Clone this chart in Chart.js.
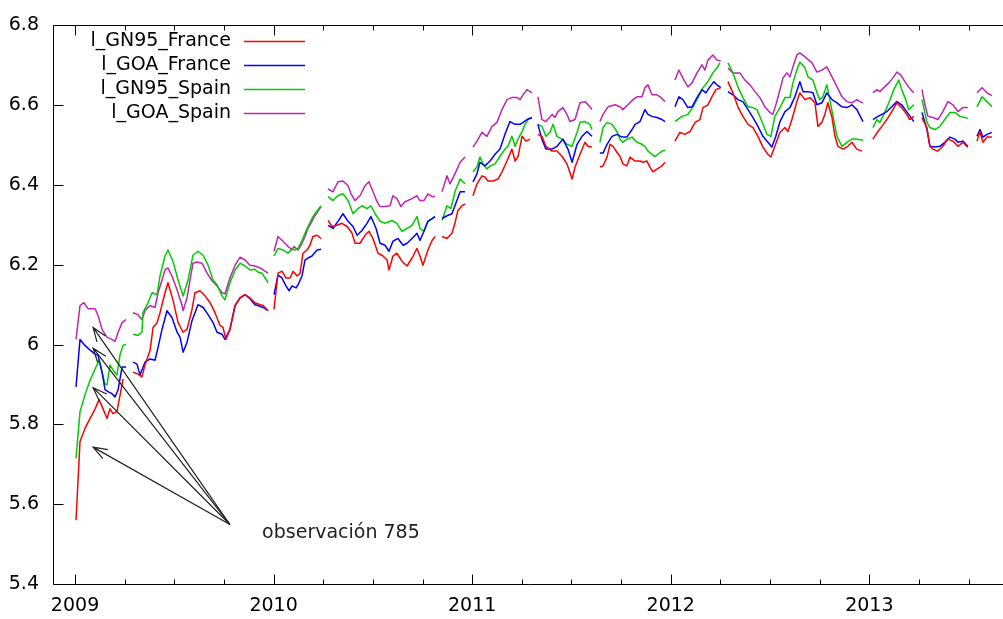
<!DOCTYPE html>
<html>
<head>
<meta charset="utf-8">
<script src="https://cdn.jsdelivr.net/npm/chart.js@4.4.1/dist/chart.umd.min.js"></script>
<style>
html,body{margin:0;padding:0;background:#fff;}
#wrap{width:1003px;height:619px;}
</style>
</head>
<body>
<div id="wrap"><canvas id="c" width="1003" height="619"></canvas></div>
<script>
// ---------------- data ----------------
const seriesNames = ['l_GN95_France', 'l_GOA_France', 'l_GN95_Spain', 'l_GOA_Spain'];
const seriesColors = ['#ff0000', '#0000ff', '#00cc00', '#bf25b2'];
const yearTicks = [2009, 2010, 2011, 2012, 2013];
const quarterTicks = [2009.25, 2009.5, 2009.75, 2010.25, 2010.5, 2010.75, 2011.25, 2011.5, 2011.75,
                      2012.25, 2012.5, 2012.75, 2013.25, 2013.5];
const yTicks = [5.4, 5.6, 5.8, 6.0, 6.2, 6.4, 6.6, 6.8];

// [decimal year, value]; null = missing observations (gap)
const gn95France = [
 [2009.005,5.560],[2009.025,5.757],[2009.050,5.790],[2009.076,5.815],[2009.101,5.839],[2009.121,5.862],[2009.141,5.839],[2009.161,5.815],[2009.176,5.839],[2009.191,5.827],[2009.211,5.832],[2009.227,5.874],[2009.242,5.914],
 null,
 [2009.292,5.931],[2009.317,5.926],[2009.337,5.919],[2009.352,5.949],[2009.378,5.986],[2009.393,6.043],[2009.413,6.055],[2009.428,6.080],[2009.453,6.130],[2009.468,6.155],[2009.493,6.112],[2009.519,6.055],[2009.544,6.031],[2009.564,6.038],[2009.589,6.088],[2009.604,6.130],[2009.629,6.135],[2009.655,6.122],[2009.680,6.105],[2009.705,6.080],[2009.730,6.048],[2009.745,6.043],[2009.760,6.013],[2009.780,6.038],[2009.806,6.098],[2009.831,6.117],[2009.856,6.125],[2009.881,6.117],[2009.906,6.105],[2009.932,6.100],[2009.947,6.098],[2009.972,6.085],
 null,
 [2010.002,6.088],[2010.022,6.179],[2010.042,6.184],[2010.062,6.167],[2010.083,6.167],[2010.098,6.184],[2010.118,6.172],[2010.133,6.179],[2010.148,6.229],[2010.168,6.237],[2010.183,6.249],[2010.198,6.271],[2010.219,6.274],[2010.239,6.266],
 null,
 [2010.274,6.311],[2010.294,6.296],[2010.319,6.299],[2010.344,6.304],[2010.370,6.296],[2010.395,6.279],[2010.410,6.254],[2010.435,6.254],[2010.460,6.274],[2010.480,6.284],[2010.500,6.266],[2010.526,6.229],[2010.551,6.222],[2010.571,6.212],[2010.581,6.187],[2010.601,6.222],[2010.621,6.229],[2010.646,6.209],[2010.672,6.197],[2010.697,6.217],[2010.722,6.241],[2010.737,6.222],[2010.752,6.199],[2010.777,6.237],[2010.798,6.261],[2010.813,6.271],
 null,
 [2010.848,6.271],[2010.873,6.266],[2010.898,6.279],[2010.913,6.304],[2010.928,6.336],[2010.949,6.348],[2010.964,6.353],
 null,
 [2011.004,6.373],[2011.024,6.403],[2011.049,6.423],[2011.064,6.420],[2011.079,6.410],[2011.105,6.410],[2011.130,6.415],[2011.150,6.433],[2011.175,6.460],[2011.200,6.490],[2011.216,6.460],[2011.231,6.472],[2011.251,6.522],[2011.271,6.510],[2011.291,6.515],
 null,
 [2011.331,6.527],[2011.351,6.522],[2011.371,6.497],[2011.402,6.485],[2011.427,6.485],[2011.452,6.472],[2011.477,6.453],[2011.503,6.415],[2011.518,6.445],[2011.543,6.477],[2011.568,6.507],[2011.583,6.497],[2011.603,6.495],
 null,
 [2011.643,6.445],[2011.659,6.448],[2011.679,6.470],[2011.694,6.502],[2011.709,6.497],[2011.729,6.482],[2011.744,6.472],[2011.759,6.453],[2011.779,6.448],[2011.795,6.470],[2011.820,6.460],[2011.845,6.460],[2011.860,6.457],[2011.880,6.460],[2011.895,6.445],[2011.910,6.433],[2011.930,6.440],[2011.956,6.448],[2011.971,6.457],
 null,
 [2012.021,6.510],[2012.046,6.532],[2012.071,6.527],[2012.097,6.534],[2012.122,6.557],[2012.147,6.564],[2012.162,6.594],[2012.187,6.601],[2012.207,6.621],[2012.227,6.639],[2012.252,6.644],
 null,
 [2012.288,6.659],[2012.313,6.631],[2012.338,6.596],[2012.363,6.572],[2012.389,6.552],[2012.414,6.544],[2012.439,6.522],[2012.464,6.495],[2012.489,6.477],[2012.504,6.470],[2012.524,6.497],[2012.550,6.532],[2012.575,6.544],[2012.590,6.534],[2012.610,6.564],[2012.635,6.609],[2012.650,6.631],[2012.676,6.614],[2012.701,6.619],[2012.726,6.606],[2012.741,6.547],[2012.761,6.557],[2012.776,6.577],[2012.791,6.606],[2012.812,6.569],[2012.827,6.522],[2012.842,6.497],[2012.867,6.490],[2012.892,6.497],[2012.912,6.507],[2012.937,6.490],[2012.963,6.485],
 null,
 [2013.018,6.515],[2013.043,6.534],[2013.063,6.547],[2013.088,6.564],[2013.113,6.584],[2013.138,6.606],[2013.163,6.594],[2013.188,6.577],[2013.203,6.564],[2013.224,6.572],
 null,
 [2013.265,6.569],[2013.290,6.544],[2013.305,6.497],[2013.320,6.490],[2013.345,6.485],[2013.370,6.497],[2013.395,6.515],[2013.421,6.510],[2013.446,6.497],[2013.471,6.507],[2013.496,6.495],
 null,
 [2013.542,6.510],[2013.557,6.534],[2013.572,6.507],[2013.592,6.520],[2013.617,6.520]
];

const goaFrance = [
 [2009.005,5.894],[2009.025,6.013],[2009.050,5.998],[2009.076,5.986],[2009.101,5.976],[2009.116,5.973],[2009.136,5.931],[2009.151,5.887],[2009.166,5.882],[2009.186,5.877],[2009.201,5.869],[2009.217,5.887],[2009.237,5.944],[2009.257,5.944],
 null,
 [2009.292,5.956],[2009.312,5.951],[2009.327,5.924],[2009.352,5.956],[2009.378,5.964],[2009.403,5.961],[2009.418,5.993],[2009.438,6.038],[2009.463,6.085],[2009.488,6.068],[2009.514,6.031],[2009.529,6.018],[2009.544,5.981],[2009.564,6.006],[2009.589,6.060],[2009.619,6.100],[2009.645,6.093],[2009.670,6.075],[2009.695,6.055],[2009.715,6.031],[2009.740,6.026],[2009.755,6.013],[2009.780,6.038],[2009.806,6.098],[2009.831,6.117],[2009.856,6.125],[2009.881,6.115],[2009.906,6.100],[2009.921,6.098],[2009.947,6.093],[2009.972,6.085],
 null,
 [2010.002,6.125],[2010.022,6.174],[2010.042,6.167],[2010.062,6.147],[2010.078,6.135],[2010.093,6.147],[2010.113,6.142],[2010.123,6.150],[2010.143,6.172],[2010.158,6.212],[2010.173,6.217],[2010.193,6.222],[2010.219,6.237],[2010.239,6.239],
 null,
 [2010.274,6.299],[2010.299,6.291],[2010.324,6.309],[2010.349,6.328],[2010.375,6.309],[2010.400,6.296],[2010.420,6.274],[2010.445,6.286],[2010.470,6.304],[2010.490,6.321],[2010.516,6.291],[2010.536,6.254],[2010.561,6.249],[2010.581,6.234],[2010.601,6.259],[2010.626,6.266],[2010.652,6.249],[2010.672,6.254],[2010.697,6.266],[2010.722,6.279],[2010.737,6.261],[2010.757,6.284],[2010.777,6.309],[2010.798,6.316],[2010.813,6.321],
 null,
 [2010.848,6.316],[2010.873,6.323],[2010.898,6.328],[2010.923,6.361],[2010.939,6.383],[2010.964,6.383],
 null,
 [2011.004,6.408],[2011.024,6.428],[2011.039,6.457],[2011.064,6.448],[2011.090,6.460],[2011.115,6.477],[2011.140,6.490],[2011.165,6.527],[2011.190,6.559],[2011.216,6.552],[2011.241,6.552],[2011.256,6.557],[2011.276,6.564],[2011.301,6.569],
 null,
 [2011.331,6.552],[2011.351,6.515],[2011.371,6.490],[2011.402,6.490],[2011.427,6.497],[2011.457,6.515],[2011.482,6.490],[2011.503,6.457],[2011.528,6.502],[2011.553,6.522],[2011.578,6.534],[2011.603,6.522],
 null,
 [2011.643,6.480],[2011.659,6.480],[2011.679,6.502],[2011.704,6.522],[2011.729,6.527],[2011.754,6.520],[2011.779,6.520],[2011.805,6.539],[2011.820,6.552],[2011.845,6.559],[2011.870,6.589],[2011.885,6.577],[2011.905,6.572],[2011.930,6.569],[2011.956,6.564],[2011.971,6.559],
 null,
 [2012.021,6.596],[2012.041,6.621],[2012.061,6.614],[2012.086,6.594],[2012.107,6.596],[2012.132,6.619],[2012.157,6.639],[2012.177,6.631],[2012.197,6.646],[2012.217,6.659],[2012.232,6.651],[2012.252,6.644],
 null,
 [2012.288,6.634],[2012.313,6.626],[2012.338,6.614],[2012.363,6.609],[2012.389,6.589],[2012.414,6.569],[2012.439,6.547],[2012.464,6.522],[2012.489,6.507],[2012.509,6.495],[2012.529,6.522],[2012.550,6.559],[2012.575,6.584],[2012.600,6.594],[2012.625,6.621],[2012.650,6.659],[2012.666,6.634],[2012.691,6.634],[2012.716,6.631],[2012.736,6.601],[2012.761,6.606],[2012.786,6.631],[2012.812,6.614],[2012.837,6.606],[2012.862,6.596],[2012.887,6.594],[2012.912,6.601],[2012.937,6.589],[2012.968,6.559],
 null,
 [2013.018,6.564],[2013.043,6.572],[2013.063,6.577],[2013.088,6.584],[2013.113,6.596],[2013.138,6.609],[2013.163,6.601],[2013.188,6.584],[2013.224,6.559],
 null,
 [2013.265,6.582],[2013.290,6.539],[2013.305,6.497],[2013.330,6.495],[2013.355,6.497],[2013.380,6.507],[2013.406,6.520],[2013.431,6.515],[2013.446,6.507],[2013.471,6.510],[2013.496,6.497],
 null,
 [2013.542,6.522],[2013.557,6.539],[2013.572,6.520],[2013.592,6.527],[2013.617,6.532]
];

const gn95Spain = [
 [2009.005,5.715],[2009.025,5.832],[2009.050,5.874],[2009.076,5.911],[2009.101,5.939],[2009.121,5.961],[2009.136,5.931],[2009.151,5.901],[2009.161,5.899],[2009.176,5.949],[2009.191,5.936],[2009.211,5.924],[2009.227,5.976],[2009.242,5.998],[2009.257,6.001],
 null,
 [2009.292,6.026],[2009.317,6.023],[2009.337,6.031],[2009.342,6.080],[2009.363,6.100],[2009.388,6.130],[2009.413,6.125],[2009.428,6.172],[2009.453,6.222],[2009.468,6.237],[2009.493,6.209],[2009.519,6.162],[2009.544,6.122],[2009.569,6.162],[2009.594,6.224],[2009.619,6.234],[2009.645,6.224],[2009.670,6.199],[2009.695,6.162],[2009.715,6.150],[2009.740,6.122],[2009.755,6.112],[2009.780,6.155],[2009.806,6.187],[2009.831,6.204],[2009.856,6.197],[2009.881,6.187],[2009.906,6.189],[2009.921,6.182],[2009.942,6.179],[2009.972,6.155],
 null,
 [2010.002,6.222],[2010.022,6.241],[2010.047,6.237],[2010.073,6.229],[2010.093,6.241],[2010.108,6.237],[2010.123,6.241],[2010.143,6.261],[2010.158,6.279],[2010.173,6.296],[2010.193,6.316],[2010.208,6.328],[2010.239,6.348],
 null,
 [2010.274,6.371],[2010.299,6.361],[2010.324,6.373],[2010.349,6.378],[2010.375,6.361],[2010.400,6.328],[2010.425,6.341],[2010.445,6.348],[2010.470,6.341],[2010.490,6.348],[2010.511,6.328],[2010.536,6.309],[2010.561,6.304],[2010.596,6.311],[2010.621,6.304],[2010.646,6.284],[2010.672,6.291],[2010.697,6.299],[2010.722,6.321],[2010.737,6.291],[2010.757,6.284],[2010.777,6.309],[2010.798,6.316],[2010.813,6.321],
 null,
 [2010.848,6.311],[2010.873,6.348],[2010.893,6.341],[2010.913,6.383],[2010.939,6.415],[2010.964,6.403],
 null,
 [2011.004,6.433],[2011.024,6.445],[2011.039,6.470],[2011.054,6.453],[2011.074,6.440],[2011.090,6.448],[2011.115,6.453],[2011.140,6.472],[2011.165,6.490],[2011.180,6.497],[2011.200,6.522],[2011.216,6.497],[2011.231,6.515],[2011.251,6.534],[2011.266,6.552],[2011.281,6.564],[2011.301,6.569],
 null,
 [2011.331,6.552],[2011.351,6.547],[2011.371,6.522],[2011.392,6.532],[2011.407,6.552],[2011.427,6.522],[2011.452,6.515],[2011.477,6.502],[2011.503,6.497],[2011.528,6.532],[2011.543,6.557],[2011.568,6.559],[2011.593,6.552],[2011.603,6.539],
 null,
 [2011.643,6.507],[2011.659,6.544],[2011.679,6.557],[2011.704,6.552],[2011.729,6.534],[2011.744,6.515],[2011.759,6.507],[2011.779,6.515],[2011.805,6.520],[2011.830,6.507],[2011.855,6.502],[2011.870,6.497],[2011.885,6.485],[2011.905,6.477],[2011.920,6.472],[2011.935,6.477],[2011.956,6.485],[2011.971,6.487],
 null,
 [2012.021,6.559],[2012.056,6.572],[2012.086,6.577],[2012.112,6.596],[2012.137,6.619],[2012.162,6.644],[2012.187,6.659],[2012.212,6.681],[2012.232,6.693],[2012.247,6.706],
 null,
 [2012.288,6.706],[2012.313,6.681],[2012.338,6.646],[2012.363,6.619],[2012.389,6.596],[2012.414,6.594],[2012.434,6.589],[2012.459,6.559],[2012.484,6.527],[2012.504,6.522],[2012.524,6.572],[2012.550,6.594],[2012.575,6.619],[2012.600,6.619],[2012.615,6.656],[2012.635,6.688],[2012.650,6.708],[2012.676,6.693],[2012.691,6.671],[2012.716,6.663],[2012.736,6.631],[2012.751,6.614],[2012.766,6.621],[2012.786,6.651],[2012.801,6.614],[2012.817,6.572],[2012.837,6.522],[2012.862,6.497],[2012.887,6.507],[2012.912,6.515],[2012.937,6.515],[2012.968,6.512],
 null,
 [2013.018,6.544],[2013.038,6.564],[2013.053,6.557],[2013.073,6.577],[2013.098,6.606],[2013.123,6.639],[2013.148,6.663],[2013.163,6.639],[2013.183,6.614],[2013.198,6.589],[2013.224,6.601],
 null,
 [2013.265,6.614],[2013.290,6.557],[2013.305,6.544],[2013.330,6.539],[2013.355,6.547],[2013.380,6.564],[2013.406,6.582],[2013.431,6.582],[2013.456,6.572],[2013.481,6.569],[2013.496,6.567],
 null,
 [2013.542,6.596],[2013.567,6.621],[2013.592,6.609],[2013.617,6.596]
];

const goaSpain = [
 [2009.005,6.013],[2009.025,6.098],[2009.045,6.105],[2009.065,6.090],[2009.101,6.090],[2009.116,6.073],[2009.136,6.038],[2009.161,6.018],[2009.186,6.013],[2009.201,6.008],[2009.217,6.031],[2009.237,6.055],[2009.257,6.063],
 null,
 [2009.292,6.080],[2009.317,6.075],[2009.337,6.063],[2009.352,6.085],[2009.378,6.098],[2009.403,6.093],[2009.418,6.130],[2009.438,6.162],[2009.453,6.187],[2009.468,6.192],[2009.488,6.172],[2009.514,6.137],[2009.539,6.098],[2009.544,6.085],[2009.564,6.117],[2009.579,6.162],[2009.594,6.204],[2009.614,6.207],[2009.639,6.204],[2009.665,6.179],[2009.690,6.160],[2009.715,6.147],[2009.740,6.130],[2009.755,6.127],[2009.780,6.167],[2009.806,6.199],[2009.831,6.219],[2009.856,6.212],[2009.881,6.199],[2009.906,6.197],[2009.932,6.192],[2009.947,6.187],[2009.972,6.179],
 null,
 [2010.002,6.234],[2010.022,6.271],[2010.047,6.259],[2010.073,6.246],[2010.093,6.237],[2010.103,6.246],[2010.123,6.237],[2010.143,6.254],[2010.158,6.271],[2010.173,6.291],[2010.193,6.309],[2010.208,6.323],[2010.239,6.346],
 null,
 [2010.274,6.390],[2010.299,6.383],[2010.324,6.408],[2010.349,6.410],[2010.375,6.398],[2010.390,6.378],[2010.410,6.361],[2010.435,6.373],[2010.460,6.398],[2010.480,6.408],[2010.495,6.390],[2010.521,6.358],[2010.536,6.346],[2010.561,6.346],[2010.586,6.348],[2010.601,6.373],[2010.621,6.366],[2010.641,6.346],[2010.662,6.358],[2010.697,6.366],[2010.722,6.373],[2010.737,6.361],[2010.757,6.361],[2010.777,6.378],[2010.798,6.371],[2010.813,6.371],
 null,
 [2010.848,6.383],[2010.873,6.423],[2010.888,6.403],[2010.913,6.428],[2010.939,6.457],[2010.964,6.470],
 null,
 [2011.004,6.495],[2011.024,6.510],[2011.049,6.532],[2011.074,6.522],[2011.100,6.547],[2011.125,6.557],[2011.150,6.589],[2011.175,6.614],[2011.200,6.619],[2011.226,6.619],[2011.241,6.614],[2011.256,6.626],[2011.276,6.639],[2011.301,6.631],
 null,
 [2011.331,6.621],[2011.351,6.564],[2011.371,6.559],[2011.402,6.577],[2011.417,6.569],[2011.432,6.584],[2011.457,6.594],[2011.477,6.577],[2011.492,6.559],[2011.518,6.564],[2011.543,6.606],[2011.568,6.609],[2011.593,6.596],[2011.603,6.589],
 null,
 [2011.643,6.559],[2011.659,6.577],[2011.684,6.596],[2011.719,6.601],[2011.744,6.596],[2011.759,6.589],[2011.784,6.601],[2011.810,6.614],[2011.830,6.621],[2011.855,6.621],[2011.870,6.644],[2011.885,6.651],[2011.905,6.626],[2011.930,6.626],[2011.946,6.621],[2011.971,6.609],
 null,
 [2012.021,6.663],[2012.041,6.688],[2012.061,6.668],[2012.086,6.646],[2012.107,6.656],[2012.132,6.681],[2012.157,6.701],[2012.172,6.688],[2012.187,6.713],[2012.212,6.726],[2012.232,6.713],[2012.252,6.711],
 null,
 [2012.288,6.693],[2012.313,6.681],[2012.348,6.681],[2012.373,6.663],[2012.399,6.651],[2012.424,6.634],[2012.449,6.619],[2012.474,6.596],[2012.499,6.582],[2012.514,6.577],[2012.534,6.609],[2012.550,6.639],[2012.565,6.668],[2012.585,6.681],[2012.600,6.671],[2012.615,6.696],[2012.635,6.726],[2012.650,6.731],[2012.676,6.721],[2012.711,6.706],[2012.736,6.683],[2012.761,6.688],[2012.786,6.696],[2012.812,6.671],[2012.837,6.646],[2012.862,6.621],[2012.887,6.609],[2012.912,6.606],[2012.937,6.614],[2012.952,6.609],[2012.968,6.606],
 null,
 [2013.018,6.631],[2013.038,6.639],[2013.053,6.634],[2013.073,6.644],[2013.098,6.656],[2013.123,6.671],[2013.138,6.683],[2013.158,6.676],[2013.183,6.656],[2013.208,6.639],[2013.224,6.631],
 null,
 [2013.265,6.639],[2013.280,6.601],[2013.295,6.572],[2013.320,6.569],[2013.345,6.564],[2013.370,6.584],[2013.395,6.609],[2013.421,6.601],[2013.446,6.584],[2013.471,6.594],[2013.496,6.594],
 null,
 [2013.542,6.631],[2013.567,6.644],[2013.592,6.631],[2013.617,6.624]
];

// annotation: "observación 785" with arrows (data coordinates)
const annotationText = 'observación 785';
const annotationPos = [2009.942, 5.527];
const arrowTail = [2009.780, 5.549];
const arrowHeads = [[2009.091, 6.043], [2009.091, 5.991], [2009.091, 5.892], [2009.091, 5.743]];

// ---------------- chart ----------------
const FONT = '19px "DejaVu Sans", sans-serif';

function toPoints(arr) {
  const out = [];
  for (const p of arr) {
    if (p === null) out.push({ x: out[out.length - 1].x, y: null });
    else out.push({ x: p[0], y: p[1] });
  }
  return out;
}

const allSeries = [gn95France, goaFrance, gn95Spain, goaSpain];

const framePlugin = {
  id: 'frame',
  afterDatasetsDraw(chart) {
    const { ctx, chartArea: a, scales: { x, y } } = chart;
    ctx.save();
    ctx.strokeStyle = '#000';
    ctx.lineWidth = 1;
    const L = Math.round(a.left) + 0.5, T = Math.round(a.top) + 0.5, B = Math.round(a.bottom) + 0.5, R = a.right + 2;
    ctx.beginPath();
    ctx.moveTo(R, T); ctx.lineTo(L, T); ctx.lineTo(L, B); ctx.lineTo(R, B);
    // year ticks (bottom + mirrored top)
    for (const v of yearTicks) {
      const px = Math.round(x.getPixelForValue(v)) + 0.5;
      ctx.moveTo(px, B); ctx.lineTo(px, B - 10);
      ctx.moveTo(px, T); ctx.lineTo(px, T + 10);
    }
    for (const v of quarterTicks) {
      const px = Math.round(x.getPixelForValue(v)) + 0.5;
      ctx.moveTo(px, B); ctx.lineTo(px, B - 5);
      ctx.moveTo(px, T); ctx.lineTo(px, T + 5);
    }
    for (const v of yTicks) {
      const py = Math.round(y.getPixelForValue(v)) + 0.5;
      ctx.moveTo(L, py); ctx.lineTo(L + 10, py);
    }
    ctx.stroke();

    // annotation arrows
    ctx.strokeStyle = '#222';
    ctx.lineWidth = 1.2;
    const tx = x.getPixelForValue(arrowTail[0]), ty = y.getPixelForValue(arrowTail[1]);
    for (const h of arrowHeads) {
      const hx = x.getPixelForValue(h[0]), hy = y.getPixelForValue(h[1]);
      const ang = Math.atan2(ty - hy, tx - hx);
      const len = 15, spread = 20 * Math.PI / 180;
      ctx.beginPath();
      ctx.moveTo(tx, ty); ctx.lineTo(hx, hy);
      ctx.moveTo(hx + len * Math.cos(ang - spread), hy + len * Math.sin(ang - spread));
      ctx.lineTo(hx, hy);
      ctx.lineTo(hx + len * Math.cos(ang + spread), hy + len * Math.sin(ang + spread));
      ctx.stroke();
    }
    ctx.fillStyle = '#222';
    ctx.font = FONT;
    ctx.textAlign = 'left';
    ctx.textBaseline = 'middle';
    ctx.fillText(annotationText, x.getPixelForValue(annotationPos[0]), y.getPixelForValue(annotationPos[1]));
    ctx.restore();
  },
  afterDraw(chart) {
    // gnuplot-style key: text right-aligned, sample line on the right
    const { ctx } = chart;
    ctx.save();
    ctx.font = FONT;
    ctx.textAlign = 'right';
    ctx.textBaseline = 'middle';
    chart.data.datasets.forEach((ds, i) => {
      const yy = 41 + 24 * i;
      ctx.fillStyle = '#000';
      ctx.fillText(ds.label, 231, yy);
      ctx.strokeStyle = ds.borderColor;
      ctx.lineWidth = 1.5;
      ctx.beginPath();
      ctx.moveTo(244, yy + 0.5); ctx.lineTo(305, yy + 0.5);
      ctx.stroke();
    });
    ctx.restore();
  }
};

Chart.defaults.font.family = '"DejaVu Sans", sans-serif';
Chart.defaults.font.size = 19;
Chart.defaults.color = '#000';

new Chart(document.getElementById('c'), {
  type: 'line',
  data: {
    datasets: allSeries.map((s, i) => ({
      label: seriesNames[i],
      data: toPoints(s),
      borderColor: seriesColors[i],
      backgroundColor: seriesColors[i],
      borderWidth: 1.5,
      pointRadius: 0,
      fill: false,
      tension: 0,
      spanGaps: false,
      borderJoinStyle: 'round'
    }))
  },
  options: {
    responsive: false,
    devicePixelRatio: 1,
    animation: false,
    parsing: false,
    normalized: true,
    layout: { padding: { top: 20, left: 0, right: 0, bottom: 0 } },
    plugins: { legend: { display: false }, tooltip: { enabled: false } },
    scales: {
      x: {
        type: 'linear',
        min: 2008.889,
        max: 2013.673,
        grid: { display: false, drawTicks: false },
        border: { display: false },
        afterBuildTicks: ax => { ax.ticks = yearTicks.map(v => ({ value: v })); },
        afterFit: ax => { ax.height = 35; },
        ticks: {
          padding: 11,
          maxRotation: 0,
          autoSkip: false,
          callback: v => String(v)
        }
      },
      y: {
        type: 'linear',
        min: 5.4,
        max: 6.8,
        grid: { display: false, drawTicks: false },
        border: { display: false },
        afterBuildTicks: ax => { ax.ticks = yTicks.map(v => ({ value: v })); },
        afterFit: ax => { ax.width = 53; },
        ticks: {
          padding: 14,
          callback: v => String(parseFloat(Number(v).toFixed(1)))
        }
      }
    }
  },
  plugins: [framePlugin]
});
</script>
</body>
</html>
